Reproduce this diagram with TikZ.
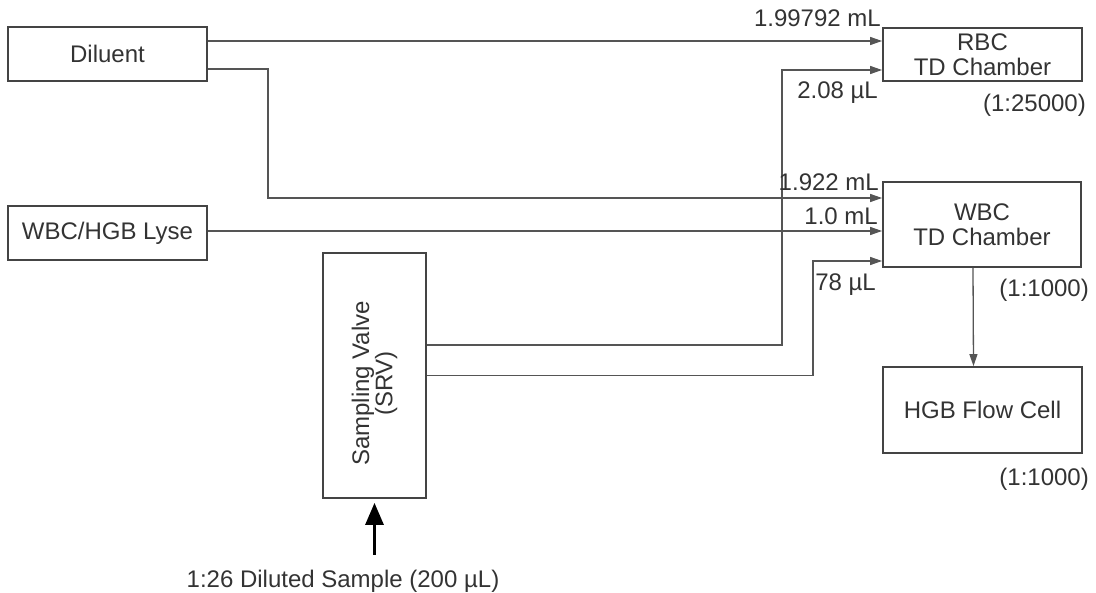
\documentclass[tikz,border=0pt]{standalone}
\usepackage{fontspec}
\setmainfont{Liberation Sans}
\usetikzlibrary{arrows.meta}
\definecolor{ink}{HTML}{333333}
\definecolor{wire}{HTML}{555555}
\definecolor{edge}{HTML}{444444}
\begin{document}
\begin{tikzpicture}[x=1pt,y=-1pt,
  font=\fontsize{24}{25}\selectfont, text=ink,
  box/.style={draw=edge, line width=1.8pt, rectangle, inner sep=0pt, align=center},
  flow/.style={draw=wire, line width=1.3pt, -{Triangle[length=12pt,width=8pt]}},
  bigarrow/.style={draw=black, line width=3pt, -{Triangle[length=22pt,width=18pt]}, shorten >=4pt},
  lbl/.style={anchor=base east, inner sep=0pt}]
\useasboundingbox (0,0) rectangle (1096,593);
\node[box, minimum width=199pt, minimum height=54pt] (dil) at (107.5,54) {Diluent};
\node[box, minimum width=199pt, minimum height=54pt] (lyse) at (107.5,233) {WBC/HGB Lyse};
\node[box, minimum width=199pt, minimum height=53pt] (rbc) at (982.5,54.5) {RBC\\TD Chamber};
\node[box, minimum width=198pt, minimum height=85pt] (wbc) at (982,224.5) {WBC\\TD Chamber};
\node[box, minimum width=199pt, minimum height=86pt] (hgb) at (982.5,410) {HGB Flow Cell};
\node[box, minimum width=103pt, minimum height=245pt] (srv) at (374.5,375.5) {};
\node[rotate=90, align=center, font=\fontsize{24}{21}\selectfont] (srvtxt) at ([yshift=-8pt]srv.center) {Sampling Valve\\(SRV)};
\coordinate (src) at (374.5,555);

\draw[flow] ([yshift=13pt]dil.east) -- ([yshift=13pt]dil.east -| rbc.west);
\draw[flow] ([yshift=-15pt]dil.east) -- ++(60,0) |- ([yshift=26.5pt]wbc.west);
\draw[flow] ([yshift=2pt]lyse.east) -- ([yshift=2pt]lyse.east -| wbc.west);
\draw[flow] ([yshift=30.5pt]srv.east) -- ++(355,0) |- ([yshift=-15.5pt]rbc.west);
\draw[flow] (srv.east) -- ++(386,0) |- ([yshift=-36.5pt]wbc.west);
\draw[flow] ([xshift=-9pt]wbc.south) -- ([xshift=-9pt]hgb.north);
\draw[bigarrow] (src) -- (srv.south);

\node[lbl] (l1) at (881,27) {1.99792 mL};
\node[lbl] (l2) at (878,99) {2.08 µL};
\node[lbl] (l3) at (1086,112) {(1:25000)};
\node[lbl] (l4) at (879,191) {1.922 mL};
\node[lbl] (l5) at (878,225) {1.0 mL};
\node[lbl] (l6) at (876,291) {78 µL};
\node[lbl] (l7) at (1089,297) {(1:1000)};
\node[lbl] (l8) at (1089,486) {(1:1000)};
\node[anchor=base, inner sep=0pt] (l9) at (343,587) {1:26 Diluted Sample (200 µL)};
\end{tikzpicture}
\end{document}
